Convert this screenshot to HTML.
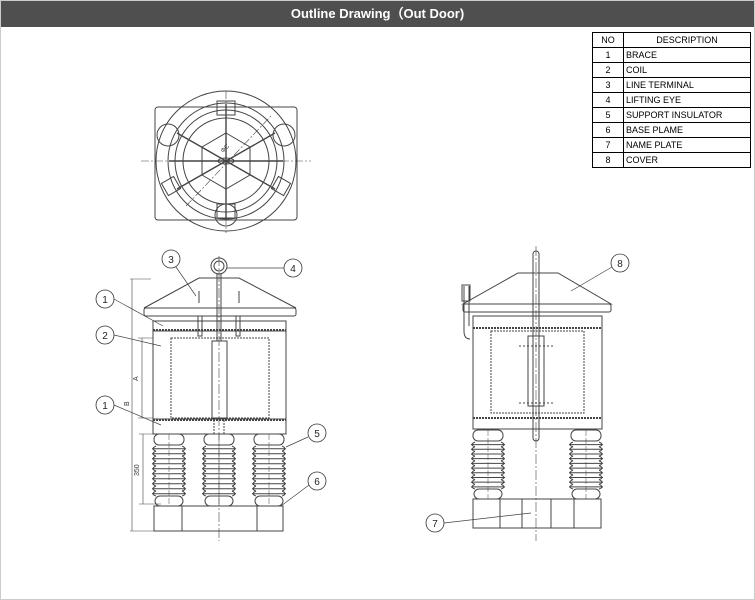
<!DOCTYPE html>
<html><head><meta charset="utf-8"><style>
html,body{margin:0;padding:0;background:#fff;}
#w{position:relative;width:753px;height:598px;border:1px solid #ccc;overflow:hidden;font-family:"Liberation Sans",sans-serif;}
#h{position:absolute;left:0;top:0;width:753px;height:26px;background:#4f4f4f;color:#fff;font-weight:bold;font-size:13px;text-align:center;line-height:26px;}
table{position:absolute;left:591px;top:31px;border-collapse:collapse;font-size:9px;color:#000;}
td{border:1px solid #000;height:14px;padding:0 2px;line-height:13px;}
td.n{width:26px;text-align:center;}
td.d{width:122px;}
svg{position:absolute;left:0;top:0;}
</style></head><body><div id="w">
<div id="h">Outline Drawing（Out Door)</div>
<table>
<tr><td class="n">NO</td><td class="d" style="text-align:center">DESCRIPTION</td></tr>
<tr><td class="n">1</td><td class="d">BRACE</td></tr>
<tr><td class="n">2</td><td class="d">COIL</td></tr>
<tr><td class="n">3</td><td class="d">LINE TERMINAL</td></tr>
<tr><td class="n">4</td><td class="d">LIFTING EYE</td></tr>
<tr><td class="n">5</td><td class="d">SUPPORT INSULATOR</td></tr>
<tr><td class="n">6</td><td class="d">BASE PLAME</td></tr>
<tr><td class="n">7</td><td class="d">NAME PLATE</td></tr>
<tr><td class="n">8</td><td class="d">COVER</td></tr>
</table>
<svg id="s" width="755" height="600" viewBox="0 0 755 600" fill="none" stroke="#444" stroke-width="1" font-family="Liberation Sans" font-size="10">
<g>
<rect x="154" y="106" width="142" height="113" rx="3"/>
<circle cx="225" cy="160" r="70"/>
<circle cx="225" cy="160" r="58"/>
<circle cx="225" cy="160" r="51"/>
<circle cx="225" cy="160" r="43"/>
<polygon points="225,132 249,146 249,174 225,188 201,174 201,146"/>
<path d="M225,103V217M168,160H282M176,132L274,188M176,188L274,132" stroke-width="1.4"/>
<path d="M225,90V232M140,160H310M185,205L270,115" stroke-dasharray="8,2,2,2" stroke-width="0.6"/>
<ellipse cx="225" cy="160" rx="8" ry="3"/>
<rect x="216" y="100" width="18" height="14"/><rect x="216" y="203" width="18" height="14"/>
<circle cx="225" cy="214" r="11"/>
<circle cx="167" cy="134" r="11"/><circle cx="283" cy="134" r="11"/>
<rect x="163" y="178" width="14" height="14" transform="rotate(-30 170 185)"/>
<rect x="273" y="178" width="14" height="14" transform="rotate(30 280 185)"/>
<text x="222" y="152" font-size="6" fill="#333" stroke="none" transform="rotate(-45 222 152)">ΦC</text>
</g>
<g>
<path d="M198,277H238L295,307H143Z"/>
<rect x="143" y="307" width="152" height="8" rx="2"/>
<rect x="152" y="320" width="133" height="113"/>
<path d="M152,330H285M152,418H285" />
<path d="M152,329H285M152,419H285" stroke-dasharray="2,1" stroke-width="2"/>
<rect x="170" y="337" width="98" height="80" stroke-dasharray="2,1"/>
<rect x="197" y="315" width="4" height="20"/><rect x="235" y="315" width="4" height="20"/>
<path d="M218,255V540" stroke-dasharray="10,2,2,2" stroke-width="0.6"/>
<circle cx="218" cy="265" r="8"/><circle cx="218" cy="265" r="5"/>
<path d="M216,273V340M220,273V340"/>
<rect x="211" y="340" width="15" height="77"/>
<rect x="213" y="417" width="10" height="16" stroke-dasharray="2,1"/>
<path d="M198,290v12M238,290v12"/>
<rect x="153" y="505" width="129" height="25"/>
<path d="M181,505v25M256,505v25"/>
<path d="M131,278V530M141,337V417M142,433V503M129,278H150M137,337H152M137,417H152M138,433H160M138,503H160M129,530H153" stroke-width="0.6"/>
<text x="137" y="380" font-size="7" fill="#333" stroke="none" transform="rotate(-90 137 380)">A</text>
<text x="128" y="405" font-size="7" fill="#333" stroke="none" transform="rotate(-90 128 405)">B</text>
<text x="138" y="475" font-size="7" fill="#333" stroke="none" transform="rotate(-90 138 475)">350</text>
</g>
<g>
<path d="M517,272H557L610,303H462Z"/>
<rect x="462" y="303" width="148" height="8" rx="2"/>
<rect x="472" y="315" width="129" height="113"/>
<path d="M472,327H601M472,417H601" stroke-dasharray="2,1" stroke-width="2"/>
<rect x="490" y="330" width="93" height="82" stroke-dasharray="2,1"/>
<path d="M535,245V540" stroke-dasharray="10,2,2,2" stroke-width="0.6"/>
<rect x="532" y="250" width="6" height="190" rx="3"/>
<rect x="527" y="335" width="16" height="70"/>
<path d="M518,345H552M518,402H552" stroke-dasharray="2,2"/>
<path d="M463,285v45q0,8 6,8M468,285v40" />
<rect x="461" y="284" width="8" height="16"/>
<rect x="472" y="498" width="128" height="29"/>
<path d="M499,498v29M521,498v29M550,498v29M573,498v29"/>
</g>
<g stroke-width="0.7">
<path d="M113,298L162,325M113,334L160,345M113,404L160,424M175,266L195,295M301,267H226M307,436L285,446M308,484L280,505M611,266L570,290M443,522L530,512"/>
</g>
<g fill="#fff" stroke="#333" stroke-width="0.8">
<circle cx="104" cy="298" r="9"/><circle cx="104" cy="334" r="9"/><circle cx="104" cy="404" r="9"/>
<circle cx="170" cy="258" r="9"/><circle cx="292" cy="267" r="9"/><circle cx="316" cy="432" r="9"/>
<circle cx="316" cy="480" r="9"/><circle cx="619" cy="262" r="9"/><circle cx="434" cy="522" r="9"/>
</g>
<g fill="#222" stroke="none" text-anchor="middle" font-size="10">
<text x="104" y="302">1</text><text x="104" y="338">2</text><text x="104" y="408">1</text>
<text x="170" y="262">3</text><text x="292" y="271">4</text><text x="316" y="436">5</text>
<text x="316" y="484">6</text><text x="619" y="266">8</text><text x="434" y="526">7</text>
</g>
</svg>
<script>
(function(){
var s=document.getElementById('s');var ns='http://www.w3.org/2000/svg';
function ins(cx,top,bot,w){
 var g=document.createElementNS(ns,'g');
 var h='';var n=10;var step=(bot-top-22)/n;
 h+='<rect x="'+(cx-w/2+3)+'" y="'+top+'" width="'+(w-6)+'" height="11" rx="5"/>';
 for(var i=0;i<n;i++){var y=top+12+i*step;
  h+='<path d="M'+(cx-w/2+5)+','+(y)+'Q'+(cx-w/2-1)+','+(y+step*0.6)+' '+(cx-w/2+5)+','+(y+step)+'M'+(cx+w/2-5)+','+y+'Q'+(cx+w/2+1)+','+(y+step*0.6)+' '+(cx+w/2-5)+','+(y+step)+'M'+(cx-w/2+1)+','+(y+step*0.55)+'H'+(cx+w/2-1)+'"/>';}
 h+='<rect x="'+(cx-w/2+4)+'" y="'+(bot-10)+'" width="'+(w-8)+'" height="10" rx="5"/>';
 h+='<path d="M'+cx+','+top+'V'+bot+'" stroke-dasharray="6,2" stroke-width="0.5"/>';
 g.innerHTML=h;s.appendChild(g);}
ins(168,433,505,36);ins(218,433,505,36);ins(268,433,505,36);
ins(487,429,498,36);ins(585,429,498,36);
})();
</script>
</div></body></html>
